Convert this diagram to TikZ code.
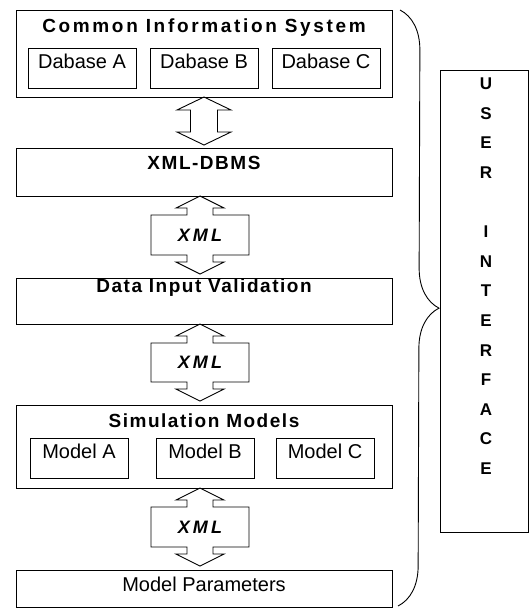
\documentclass[tikz,border=0pt]{standalone}
\usepackage{fontspec}
\setmainfont{Liberation Sans}
\usetikzlibrary{positioning,calc,decorations.pathreplacing}

\begin{document}
\begin{tikzpicture}[
            x=1pt, y=1pt,
            every node/.style={inner sep=0pt, outer sep=0pt},
            block/.style={draw, line width=0.9pt, minimum width=376pt, font=\bfseries\fontsize{19}{20}\selectfont\addfontfeature{LetterSpace=8}},
            store/.style={draw, line width=0.9pt, text height=20pt, text depth=20pt, font=\fontsize{20}{24}\selectfont},
            xml/.style={font=\bfseries\itshape\fontsize{18}{20}\selectfont\addfontfeature{LetterSpace=18}},
            link/.style={draw, line width=0.9pt, line join=miter},
            brace/.style={decorate, decoration={brace, amplitude=40pt}, line width=0.9pt}
  ]

  \useasboundingbox (0,0) rectangle (531,-608);

  \node[block, text height=22pt, text depth=65pt, font=\bfseries\fontsize{19}{20}\selectfont\addfontfeature{LetterSpace=14}] (cis) at (204,-53.5) {Common Information System};
  \node[store, minimum width=108pt] (dba) [below right=38pt and 12pt of cis.north west] {Dabase A};
  \node[store, minimum width=108pt] (dbb) [right=14pt of dba] {Dabase B};
  \node[store, minimum width=108pt] (dbc) [right=14pt of dbb] {Dabase C};

  \node[block, text height=21pt, text depth=27pt] (dbms) [below=51pt of cis] {XML-DBMS};
  \node[block, text height=14pt, text depth=32pt] (valid) [below=82pt of dbms] {Data Input Validation};

  \node[block, text height=22pt, text depth=61pt] (sim) [below=81pt of valid] {Simulation Models};
  \node[store, minimum width=98pt] (mda) [below right=33pt and 14pt of sim.north west] {Model A};
  \node[store, minimum width=98pt] (mdb) [right=28pt of mda] {Model B};
  \node[store, minimum width=98pt] (mdc) [right=22pt of mdb] {Model C};

  \node[block, text height=21pt, text depth=16pt, font=\fontsize{20}{24}\selectfont] (param) [below=82pt of sim] {Model Parameters};

  \node[draw, line width=0.9pt, minimum width=88pt, minimum height=462pt] (ui) [right=48pt of valid] {};
  \node[font=\bfseries\fontsize{17}{29.6}\selectfont, align=center, anchor=north] (uitext) at ($(ui.north)+(2,-8)$) {U\\S\\E\\R\\~\\I\\N\\T\\E\\R\\F\\A\\C\\E};

  \draw[link] (cis.south) -- ++(27,-13) -- ++(-13.5,0) -- ($(dbms.north)+(13.5,16)$) -- ++(13.5,0)
    -- ($(dbms.north)+(0,3)$) -- ++(-27,13) -- ++(13.5,0) -- ($(cis.south)+(-13.5,-13)$) -- ++(-13.5,0) -- cycle;

  \foreach \a/\b [count=\i] in {dbms/valid, valid/sim, sim/param} {
    \draw[link] ($(\a.south)+(-4,0)$) -- ++(24,-12) -- ++(-11,0) -- ++(0,-7) -- ++(36,0)
      -- ($(\b.north)+(45,23)$) -- ++(-36,0) -- ++(0,-7) -- ++(11,0) -- ($(\b.north)+(-4,4)$)
      -- ++(-24,12) -- ++(11,0) -- ++(0,7) -- ++(-36,0) -- ($(\a.south)+(-53,-19)$)
      -- ++(36,0) -- ++(0,7) -- ++(-11,0) -- cycle;
    \node[xml] (xml\i) at ($($(\a.south)!0.5!(\b.north)$)+(-4,2)$) {XML};
  }

  \draw[brace] ($(cis.north east)+(8,0)$) -- ($(param.south east)+(6,1)$);

\end{tikzpicture}
\end{document}
